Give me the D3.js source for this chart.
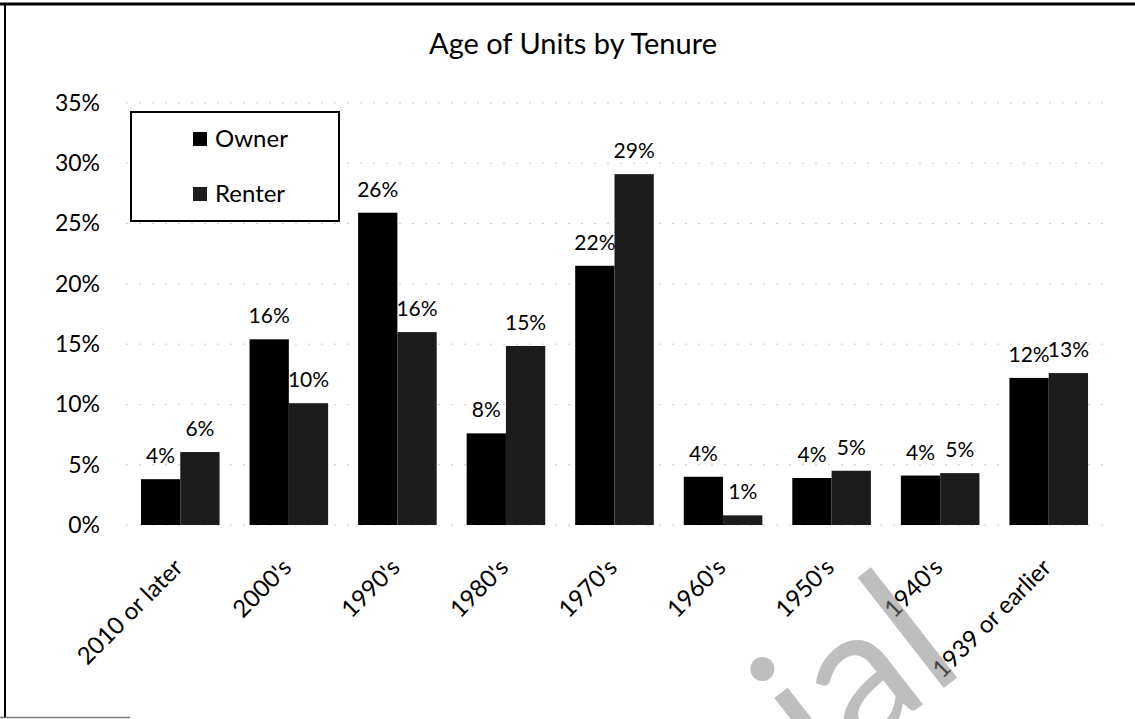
<!DOCTYPE html>
<html>
<head>
<meta charset="utf-8">
<script src="https://cdn.jsdelivr.net/npm/d3@7"></script>
<style>
  body { margin: 0; background: #fff; overflow: hidden; }
  svg { display: block; }
</style>
</head>
<body>
<svg id="chart" width="1135" height="719" font-family="Lato, 'Open Sans', sans-serif"></svg>
<script>
const categories = ["2010 or later", "2000's", "1990's", "1980's", "1970's", "1960's", "1950's", "1940's", "1939 or earlier"]
const ownerValues = [3.8, 15.4, 25.9, 7.6, 21.5, 4.0, 3.9, 4.1, 12.2]
const renterValues = [6.05, 10.1, 16.0, 14.85, 29.1, 0.8, 4.5, 4.3, 12.6]
const ownerLabels = ["4%", "16%", "26%", "8%", "22%", "4%", "4%", "4%", "12%"]
const renterLabels = ["6%", "10%", "16%", "15%", "29%", "1%", "5%", "5%", "13%"]
const seriesNames = ["Owner", "Renter"]
const yTicks = [0, 5, 10, 15, 20, 25, 30, 35]

const COLOURS = { Owner: "#000000", Renter: "#1c1c1c" }
const FONT = "Lato, 'Open Sans', sans-serif"

const svg = d3.select("#chart")
const margin = { top: 103, right: 32, bottom: 194, left: 126 }
const width = 1135
const height = 719
const innerWidth = width - margin.left - margin.right
const innerHeight = height - margin.top - margin.bottom

// scanned page frame: top and left edges, a short stub at the bottom
svg.append("line").attr("x1", 0).attr("x2", width).attr("y1", 4).attr("y2", 4)
    .attr("stroke", "#000").attr("stroke-width", 3)
svg.append("line").attr("x1", 5).attr("x2", 5).attr("y1", 3).attr("y2", 718)
    .attr("stroke", "#000").attr("stroke-width", 2)
svg.append("line").attr("x1", 0).attr("x2", 130).attr("y1", 717.5).attr("y2", 717.5)
    .attr("stroke", "#777").attr("stroke-width", 1.5)

svg.append("text")
    .attr("x", 573)
    .attr("y", 54)
    .attr("text-anchor", "middle")
    .attr("font-family", FONT)
    .attr("font-size", 29)
    .attr("fill", "#000")
    .text("Age of Units by Tenure")

const g = svg.append("g").attr("transform", `translate(${margin.left}, ${margin.top})`)

const x0 = d3.scaleBand().domain(categories).range([0, innerWidth])
    .paddingInner(0.276).paddingOuter(0.138)
const x1 = d3.scaleBand().domain(seriesNames).range([0, x0.bandwidth()])
const y = d3.scaleLinear().domain([0, 35]).range([innerHeight, 0])

// gridlines
g.append("g")
    .selectAll("line")
    .data(yTicks)
    .join("line")
    .attr("x1", 0)
    .attr("x2", innerWidth)
    .attr("y1", (d) => y(d))
    .attr("y2", (d) => y(d))
    .attr("stroke", "#cccccc")
    .attr("stroke-width", 1)
    .attr("stroke-dasharray", "2,11")

// y axis labels
const yAxis = g.append("g").call(
    d3.axisLeft(y).tickValues(yTicks).tickSize(0).tickPadding(26).tickFormat((d) => `${d}%`)
)
yAxis.select(".domain").remove()
yAxis.selectAll("text").attr("font-size", 23).attr("font-family", FONT).attr("fill", "#000")

const rows = categories.map((c, i) => ({
    category: c,
    bars: [
        { series: "Owner", value: ownerValues[i], label: ownerLabels[i] },
        { series: "Renter", value: renterValues[i], label: renterLabels[i] },
    ],
}))

const groups = g.append("g")
    .selectAll("g")
    .data(rows)
    .join("g")
    .attr("transform", (d) => `translate(${x0(d.category)}, 0)`)

groups.selectAll("rect")
    .data((d) => d.bars)
    .join("rect")
    .attr("x", (d) => x1(d.series))
    .attr("y", (d) => y(d.value))
    .attr("width", x1.bandwidth())
    .attr("height", (d) => innerHeight - y(d.value))
    .attr("fill", (d) => COLOURS[d.series])

groups.selectAll("text")
    .data((d) => d.bars)
    .join("text")
    .attr("x", (d) => x1(d.series) + x1.bandwidth() / 2)
    .attr("y", (d) => y(d.value) - 16)
    .attr("text-anchor", "middle")
    .attr("font-family", FONT)
    .attr("font-size", 21)
    .attr("fill", "#000")
    .text((d) => d.label)

// x axis labels, rotated
g.append("g")
    .selectAll("text")
    .data(categories)
    .join("text")
    .attr("transform", (d) => `translate(${x0(d) + x0.bandwidth() / 2 + 4}, ${innerHeight + 44}) rotate(-45)`)
    .attr("text-anchor", "end")
    .attr("font-family", FONT)
    .attr("font-size", 24)
    .attr("fill", "#000")
    .text((d) => d)

// legend
const legend = svg.append("g").attr("transform", "translate(131, 112)")
legend.append("rect")
    .attr("width", 208)
    .attr("height", 109)
    .attr("fill", "#fff")
    .attr("stroke", "#000")
    .attr("stroke-width", 2)
seriesNames.forEach((name, i) => {
    const row = legend.append("g").attr("transform", `translate(62, ${20 + i * 55})`)
    row.append("rect").attr("width", 14).attr("height", 14).attr("fill", COLOURS[name])
    row.append("text")
        .attr("x", 22)
        .attr("y", 15)
        .attr("font-family", FONT)
        .attr("font-size", 24)
        .attr("fill", "#000")
        .text(name)
})

// scanner watermark fragment
svg.append("text")
    .attr("transform", "translate(968, 669) rotate(-38)")
    .attr("text-anchor", "end")
    .attr("font-family", FONT)
    .attr("font-size", 190)
    .attr("fill", "#838383")
    .attr("fill-opacity", 0.52)
    .text("ial")
</script>
</body>
</html>
